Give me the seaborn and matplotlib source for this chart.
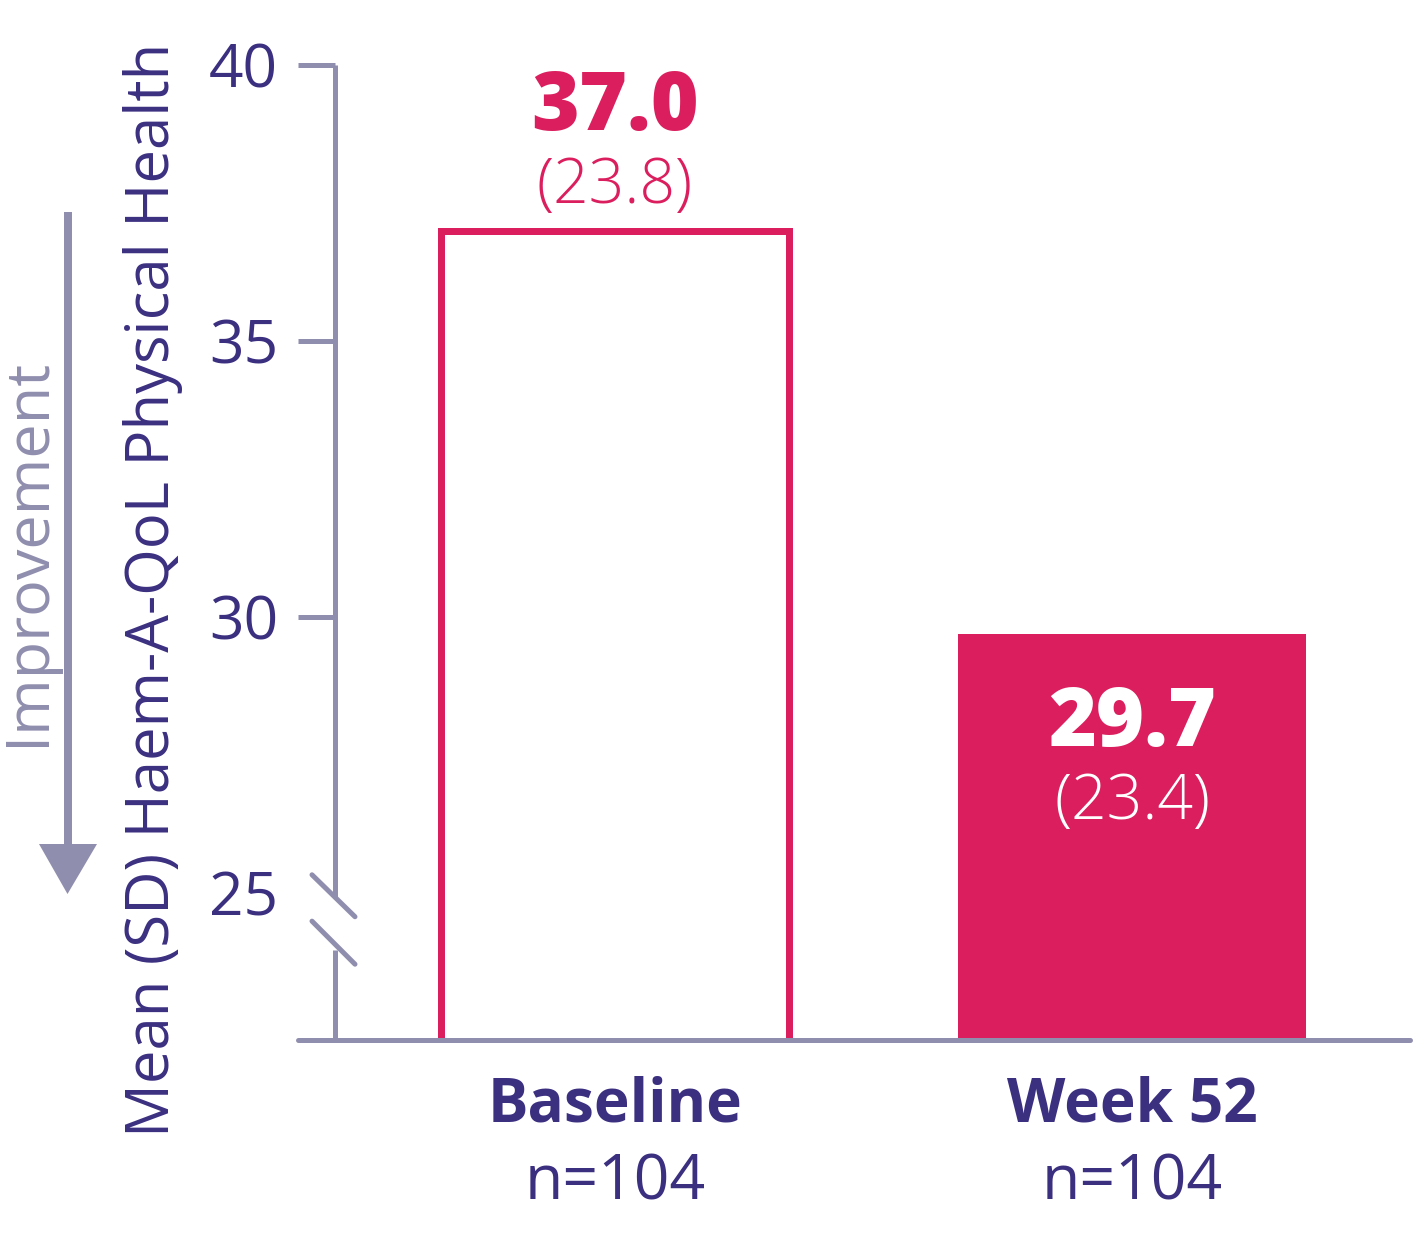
import matplotlib
matplotlib.use("Agg")
import matplotlib.pyplot as plt
import seaborn as sns
import pandas as pd
from matplotlib.lines import Line2D
from matplotlib.patches import Polygon

# ---- data ----
categories = ["Baseline", "Week 52"]
mean_values = [37.0, 29.7]
sd_values = [23.8, 23.4]
n_labels = ["n=104", "n=104"]
y_ticks = [25, 30, 35, 40]
y_label = "Mean (SD) Haem-A-QoL Physical Health"
arrow_label = "Improvement"

# ---- style ----
W, H, DPI = 1413, 1240, 100
INDIGO = "#3b2f80"
GREY = "#908eae"
CRIMSON = "#db1f5e"

sns.set_theme(style="white")
plt.rcParams["font.family"] = ["Open Sans", "DejaVu Sans"]

PX = 72.0 / DPI  # points per pixel

fig = plt.figure(figsize=(W / DPI, H / DPI), dpi=DPI)
fig.patch.set_facecolor("white")
ax = fig.add_axes([335 / W, 1 - 1040 / H, (1410 - 335) / W, (1040 - 65) / H])

df = pd.DataFrame({"timepoint": categories, "mean": mean_values})
sns.barplot(data=df, x="timepoint", y="mean", hue="timepoint",
            palette=[CRIMSON, CRIMSON], width=0.672, saturation=1,
            legend=False, ax=ax, zorder=2)

ymin = 40 - (1040 - 65) / 55.2
ax.set_ylim(ymin, 40)
ax.set_xlim(-0.5416, 1.5377)

# bar styling: first outlined, second filled
bars = ax.patches
bars[0].set_facecolor("white")
bars[0].set_edgecolor(CRIMSON)
bars[0].set_linewidth(7 * PX)
bars[1].set_facecolor(CRIMSON)
bars[1].set_edgecolor(CRIMSON)
bars[1].set_linewidth(0)

for s in ax.spines.values():
    s.set_visible(False)
ax.set_facecolor("white")

# y axis spine with break
yt = ax.get_yaxis_transform()
gap_top, gap_bot = 24.93, 23.97
ax.plot([0, 0], [40, gap_top], transform=yt, color=GREY, lw=5 * PX,
        solid_capstyle="butt", clip_on=False, zorder=3)
ax.plot([0, 0], [gap_bot, ymin], transform=yt, color=GREY, lw=5 * PX,
        solid_capstyle="butt", clip_on=False, zorder=3)
# break marks
for y0, y1 in [(25.33, 24.57), (24.49, 23.71)]:
    ax.plot([-0.0214, 0.0186], [y0, y1], transform=yt, color=GREY,
            lw=5 * PX, solid_capstyle="round", clip_on=False, zorder=3)
# x axis line extending left
ax.plot([-0.0344, 1.0], [0, 0], transform=ax.transAxes, color=GREY,
        lw=5 * PX, solid_capstyle="round", clip_on=False, zorder=3)

# ticks
ax.set_yticks(y_ticks)
ax.set_yticklabels([str(t) for t in y_ticks])
ax.tick_params(axis="y", left=True, length=37 * PX, width=5 * PX,
               color=GREY, labelcolor=INDIGO, labelsize=43.5, pad=20 * PX)
ax.yaxis.get_major_ticks()[0].tick1line.set_visible(False)

ax.tick_params(axis="x", bottom=False, length=0, labelcolor=INDIGO,
               labelsize=43.5, pad=82 * PX)
for lbl in ax.get_xticklabels():
    lbl.set_fontweight("bold")
    lbl.set_va("baseline")
ax.set_xlabel("")

# n labels
xt = ax.get_xaxis_transform()
for i, n in enumerate(n_labels):
    ax.text(i, -(1199 - 1040) / 975, n, transform=xt, ha="center",
            va="baseline", fontsize=45, color=INDIGO)

# value labels
for i, (m, sd) in enumerate(zip(mean_values, sd_values)):
    if i == 0:
        col, off_m, off_sd = CRIMSON, 101, 28
    else:
        col, off_m, off_sd = "white", -112, -185
    ax.annotate(f"{m:.1f}", xy=(i, m), xytext=(0, off_m * PX),
                textcoords="offset points", ha="center", va="baseline",
                fontsize=59, fontweight="heavy", color=col, zorder=5,
                annotation_clip=False)
    ax.annotate(f"({sd:.1f})", xy=(i, m), xytext=(0, off_sd * PX),
                textcoords="offset points", ha="center", va="baseline",
                fontsize=45, fontweight="light", color=col, zorder=5,
                annotation_clip=False)

# y label
ax.set_ylabel(y_label, fontsize=43, color=INDIGO)
ax.yaxis.label.set_va("baseline")
ax.yaxis.set_label_coords((169 - 335) / 1075, (1040 - 590) / 975)


# improvement arrow
def fx(x):
    return x / W


def fy(y):
    return 1 - y / H


fig.add_artist(Line2D([fx(67.5), fx(67.5)], [fy(212), fy(846)],
                      transform=fig.transFigure, color=GREY, lw=8 * PX,
                      solid_capstyle="butt"))
fig.add_artist(Polygon([(fx(39), fy(844)), (fx(97), fy(844)),
                        (fx(67.5), fy(894))], closed=True,
                       transform=fig.transFigure, facecolor=GREY,
                       edgecolor="none"))
fig.text(fx(44), fy(551.5), arrow_label, rotation=90, rotation_mode="anchor",
         ha="center", va="baseline", fontsize=44, color=GREY)

fig.savefig("out.png", dpi=DPI, facecolor="white")
